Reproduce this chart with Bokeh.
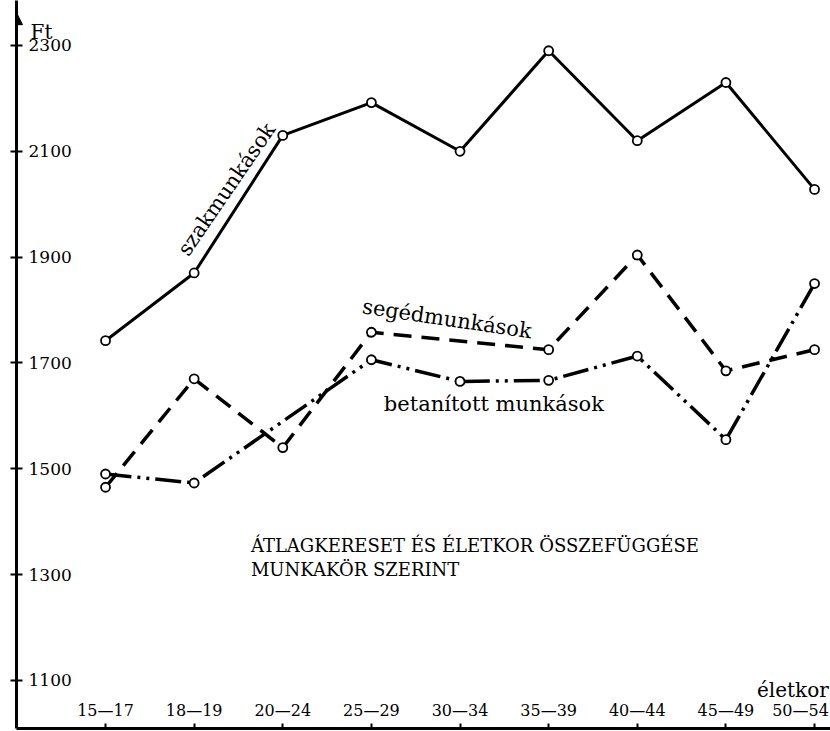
from bokeh.plotting import figure
from bokeh.models import FixedTicker, Range1d, Arrow, NormalHead, Label, CustomJSTickFormatter
from bokeh.core.properties import value
from bokeh.embed import file_html
from bokeh.resources import INLINE

# ---- data ----
categories = ["15—17", "18—19", "20—24", "25—29", "30—34", "35—39", "40—44", "45—49", "50—54"]

szak_cats = ["15—17", "18—19", "20—24", "25—29", "30—34", "35—39", "40—44", "45—49", "50—54"]
szak_vals = [1742, 1870, 2130, 2192, 2100, 2290, 2120, 2230, 2028]

seged_cats = ["15—17", "18—19", "20—24", "25—29", "35—39", "40—44", "45—49", "50—54"]
seged_vals = [1465, 1670, 1540, 1758, 1725, 1904, 1685, 1725]

betan_cats = ["15—17", "18—19", "25—29", "30—34", "35—39", "40—44", "45—49", "50—54"]
betan_vals = [1490, 1473, 1706, 1665, 1667, 1713, 1555, 1850]

yticks = [1100, 1300, 1500, 1700, 1900, 2100, 2300]
ytick_labels = ["1100", "1300", "1500", "1700", "1900", "2100", "2300"]

title_lines = ["ÁTLAGKERESET ÉS ÉLETKOR ÖSSZEFÜGGÉSE", "MUNKAKÖR SZERINT"]
series_names = ["szakmunkások", "segédmunkások", "betanított munkások"]
y_unit = "Ft"
x_name = "életkor"

# ---- figure ----
X0, X1 = -1.0045, 8.18
Y0, Y1 = 1009, 2385
FONT = "DejaVu Serif"
SERIF = value(FONT)

p = figure(width=830, height=731, x_range=Range1d(X0, X1), y_range=Range1d(Y0, Y1),
           output_backend="svg", toolbar_location=None,
           min_border_left=16, min_border_right=0, min_border_top=0, min_border_bottom=3)
p.outline_line_color = None
p.grid.visible = False
p.background_fill_color = "white"
p.border_fill_color = "white"

empty = CustomJSTickFormatter(code="return ''")
ya = p.yaxis[0]
ya.ticker = FixedTicker(ticks=yticks)
ya.formatter = empty
ya.major_label_standoff = 0
ya.axis_line_width = 3
ya.axis_line_color = "black"
ya.major_tick_in = 6
ya.major_tick_out = 6
ya.major_tick_line_width = 2
ya.minor_tick_line_color = None

xa = p.xaxis[0]
xa.ticker = FixedTicker(ticks=list(range(len(categories))))
xa.formatter = empty
xa.major_label_standoff = 0
xa.axis_line_width = 3
xa.axis_line_color = "black"
xa.major_tick_in = 5
xa.major_tick_out = 0
xa.major_tick_line_width = 2
xa.minor_tick_line_color = None

def xpos(cats):
    return [categories.index(c) for c in cats]

# lines
p.line(xpos(szak_cats), szak_vals, line_width=3, line_color="black")
p.line(xpos(seged_cats), seged_vals, line_width=3.5, line_color="black", line_dash="18 10")
p.line(xpos(betan_cats), betan_vals, line_width=3.5, line_color="black", line_dash="26 6 3 6 3 6")

for cats, vals in [(szak_cats, szak_vals), (seged_cats, seged_vals), (betan_cats, betan_vals)]:
    p.scatter(xpos(cats), vals, marker="circle", size=9, fill_color="white",
              line_color="black", line_width=1.8)

# tick labels (drawn inside the axes, as in the original)
p.text(x=[X0] * len(yticks), y=yticks, text=ytick_labels, x_offset=12,
       text_align="left", text_baseline="middle", text_font=SERIF,
       text_font_size="17px", text_color="black")
xlab_shift = [0] * (len(categories) - 1) + [-14]   # keep the last label inside the page
p.text(x=list(range(len(categories))), y=[Y0] * len(categories), text=categories,
       x_offset=xlab_shift, y_offset=-18, text_align="center", text_baseline="middle",
       text_font=SERIF, text_font_size="16px", text_color="black")

# axis arrow
p.add_layout(Arrow(end=NormalHead(size=12, fill_color="black", line_color="black"),
                   x_start=X0, y_start=2320, x_end=X0, y_end=2362,
                   line_width=3, line_color="black"))

def lab(txt, x, y, size, angle=0.0, align="left"):
    p.add_layout(Label(x=x, y=y, text=txt, text_font=FONT, text_font_size=size,
                       text_color="black", angle=angle, text_align=align,
                       text_baseline="alphabetic"))

lab(y_unit, -0.846, 2326, "20px")
lab(x_name, 8.16, 1081, "20px", align="right")
lab(series_names[0], 0.87, 1907, "21px", angle=0.97)
lab(series_names[1], 2.90, 1807, "21px", angle=-0.148)
lab(series_names[2], 3.14, 1623, "21px")
lab(title_lines[0], 1.64, 1354, "18px")
lab(title_lines[1], 1.64, 1310, "18px")

open("out.html", "w").write(file_html(p, INLINE))
